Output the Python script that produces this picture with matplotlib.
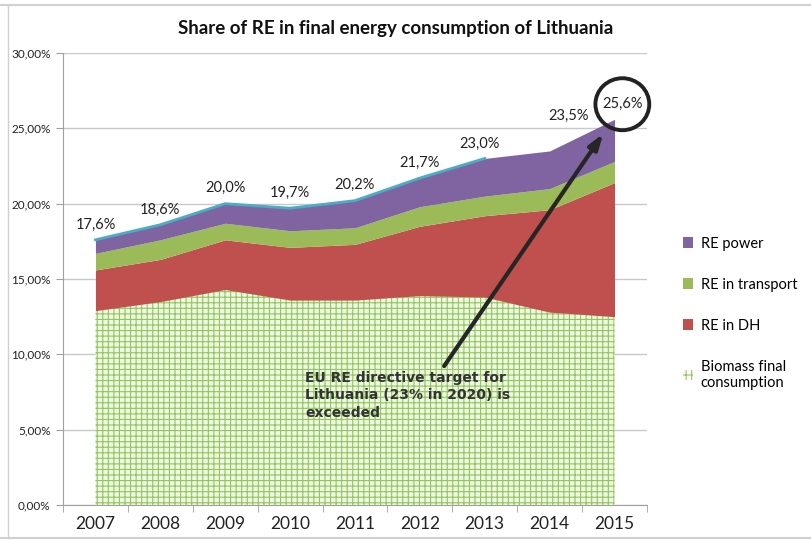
import numpy as np
import matplotlib.pyplot as plt
from matplotlib.patches import Patch, Ellipse

plt.rcParams['font.family'] = ['Lato', 'DejaVu Sans']
plt.rcParams['hatch.linewidth'] = 0.8
plt.rcParams['hatch.color'] = '#92C65A'

years = [2007, 2008, 2009, 2010, 2011, 2012, 2013, 2014, 2015]
biomass = [12.9, 13.5, 14.3, 13.6, 13.6, 13.9, 13.8, 12.8, 12.5]
re_dh = [2.7, 2.8, 3.3, 3.5, 3.7, 4.6, 5.4, 6.8, 8.9]
re_transport = [1.1, 1.3, 1.1, 1.1, 1.1, 1.3, 1.3, 1.4, 1.4]
re_power = [0.9, 1.0, 1.3, 1.5, 1.8, 1.9, 2.5, 2.5, 2.8]
totals = [17.6, 18.6, 20.0, 19.7, 20.2, 21.7, 23.0, 23.5, 25.6]
# label nudges in points
label_dx = [0, 0, 0, 0, 0, 0, -3.6, 13.7, 5.8]
label_dy = [6, 6, 6, 6, 6, 6, 5.5, 20, 6]

fig = plt.figure(figsize=(8.11, 5.4), dpi=100)
ax = fig.add_axes([63 / 811, 35 / 540, 584 / 811, 452 / 540])

x = np.array(years)
b1 = np.array(biomass)
b2 = b1 + np.array(re_dh)
b3 = b2 + np.array(re_transport)
b4 = b3 + np.array(re_power)

ax.fill_between(x, 0, b1, facecolor='#EEF7E4', edgecolor='#92C65A', hatch='+++', linewidth=0, zorder=2)
ax.fill_between(x, b1, b2, color='#C0504D', linewidth=0, zorder=2)
ax.fill_between(x, b2, b3, color='#9BBB59', linewidth=0, zorder=2)
ax.fill_between(x, b3, b4, color='#8064A2', linewidth=0, zorder=2)
ax.plot(x[:7], b4[:7], color='#4BACC6', lw=2, zorder=3)

for yr, t, dx, dy in zip(years, totals, label_dx, label_dy):
    ax.annotate(f'{t:.1f}%'.replace('.', ','), (yr, t), xytext=(dx, dy),
                textcoords='offset points', ha='center', va='bottom',
                fontsize=10.5, color='#222222')

ax.set_xlim(2006.5, 2015.5)
ax.set_ylim(0, 30)
ax.set_yticks(np.arange(0, 31, 5))
ax.set_yticklabels([f'{v:.2f}%'.replace('.', ',') for v in np.arange(0, 31, 5)],
                   fontsize=8.5, color='#222222')
ax.set_xticks(years)
ax.set_xticklabels([str(y) for y in years], fontsize=12.5, color='#222222')
ax.set_xticks(np.arange(2006.5, 2015.6, 1), minor=True)
ax.tick_params(axis='x', which='major', length=0, pad=8)
ax.tick_params(axis='x', which='minor', length=5, color='#A0A0A0')
ax.tick_params(axis='y', length=5, color='#A0A0A0', pad=4)
ax.grid(axis='y', color='#C8C8C8', lw=1, zorder=0)
for s in ['top', 'right']:
    ax.spines[s].set_visible(False)
for s in ['left', 'bottom']:
    ax.spines[s].set_color('#A0A0A0')

ax.set_title('Share of RE in final energy consumption of Lithuania',
             fontsize=13.5, fontweight='bold', color='#111111', pad=14, x=0.57)

# highlight for 2015 value
ax.add_patch(Ellipse((2015.12, 26.6), 0.83, 3.45, fill=False, lw=2.8,
                     edgecolor='#222222', clip_on=False, zorder=5))
ax.annotate('', xy=(2014.85, 24.8), xytext=(2012.35, 9.07),
            arrowprops=dict(arrowstyle='-|>,head_length=0.9,head_width=0.3',
                            color='#262626', lw=3), zorder=5)
ax.text(2010.23, 8.9, 'EU RE directive target for\nLithuania (23% in 2020) is\nexceeded',
        family=['DejaVu Sans'], fontsize=10, fontweight='bold', color='#333333',
        va='top', ha='left', linespacing=1.3, zorder=6)

handles = [Patch(facecolor='#8064A2'), Patch(facecolor='#9BBB59'),
           Patch(facecolor='#C0504D'),
           Patch(facecolor='white', edgecolor='#92C65A', hatch='+++', lw=0)]
labels = ['RE power', 'RE in transport', 'RE in DH', 'Biomass final\nconsumption']
fig.legend(handles, labels, loc='upper left', bbox_to_anchor=(0.826, 0.586),
           frameon=False, fontsize=10.5, labelspacing=1.85, handlelength=0.7,
           handleheight=0.7, handletextpad=0.5)

# outer frame
fig.add_artist(plt.Line2D([0, 1], [1 - 5 / 540] * 2, color='#D0D0D0', lw=1.5))
fig.add_artist(plt.Line2D([0, 1], [2 / 540] * 2, color='#D0D0D0', lw=1.5))
fig.add_artist(plt.Line2D([8 / 811] * 2, [2 / 540, 1 - 5 / 540], color='#D0D0D0', lw=1))

fig.savefig('out.png', dpi=100)
